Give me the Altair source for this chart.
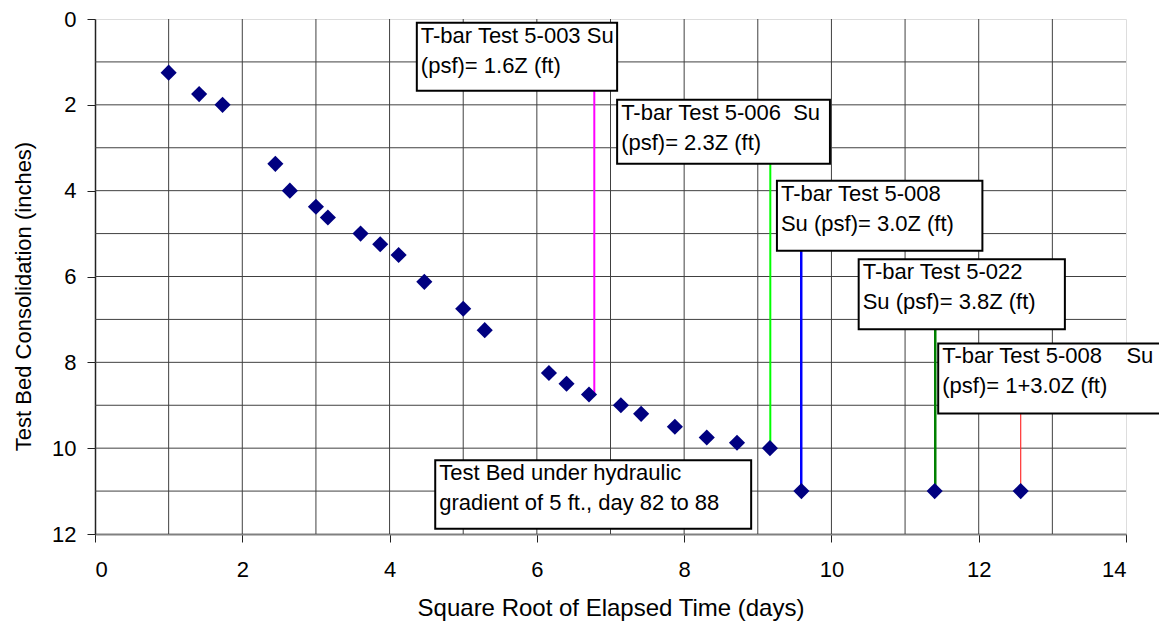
import altair as alt
import pandas as pd

# ---- data ----
sqrt_days = [1.0, 1.414, 1.732, 2.449, 2.646, 3.0, 3.162, 3.606, 3.873, 4.123,
             4.472, 5.0, 5.292, 6.164, 6.403, 6.708, 7.141, 7.416, 7.874, 8.307,
             8.718, 9.165, 9.592, 11.402, 12.570]
consolidation = [1.25, 1.75, 2.0, 3.375, 4.0, 4.375, 4.625, 5.0, 5.25, 5.5,
                 6.125, 6.75, 7.25, 8.25, 8.5, 8.75, 9.0, 9.2, 9.5, 9.75,
                 9.875, 10.0, 11.0, 11.0, 11.0]

grid_x = list(range(1, 14))
grid_y = list(range(1, 12))

# vertical marker lines (T-bar tests)
line_x = [6.78, 9.17, 9.59, 11.41, 12.57]
line_top = [1.67, 3.37, 5.40, 7.23, 9.19]
line_bottom = [8.72, 10.0, 11.0, 11.0, 11.0]
line_color = ["#ff00ff", "#00ff00", "#0000ff", "#008000", "#ff3030"]
line_width = [2.0, 2.0, 2.5, 2.5, 1.2]

# annotation boxes
box_x1 = [4.37, 7.09, 9.26, 10.37, 11.45, 4.62]
box_x2 = [7.09, 9.98, 12.05, 13.17, 14.6, 8.91]
box_y1 = [0.09, 1.88, 3.77, 5.60, 7.56, 10.28]
box_y2 = [1.67, 3.37, 5.40, 7.23, 9.19, 11.88]
box_text = [
    "T-bar Test 5-003 Su\n(psf)= 1.6Z (ft)",
    "T-bar Test 5-006\u00a0\u00a0Su\n(psf)= 2.3Z (ft)",
    "T-bar Test 5-008\nSu (psf)= 3.0Z (ft)",
    "T-bar Test 5-022\nSu (psf)= 3.8Z (ft)",
    "T-bar Test 5-008\u00a0\u00a0\u00a0\u00a0Su\n(psf)= 1+3.0Z (ft)",
    "Test Bed under hydraulic\ngradient of 5 ft., day 82 to 88",
]

x_ticks = [0, 2, 4, 6, 8, 10, 12, 14]
y_ticks = [0, 2, 4, 6, 8, 10, 12]

FONT = "Liberation Sans"
W, H = 1031, 515

pts = pd.DataFrame({"x": sqrt_days, "y": consolidation})
gx = pd.DataFrame({"x": grid_x})
gy = pd.DataFrame({"y": grid_y})
lines = pd.DataFrame({"x": line_x, "y1": line_top, "y2": line_bottom,
                      "c": line_color, "w": line_width})
boxes = pd.DataFrame({"x1": box_x1, "x2": box_x2, "y1": box_y1, "y2": box_y2,
                      "t": box_text})

xscale = alt.Scale(domain=[0, 14], nice=False, zero=False)
yscale = alt.Scale(domain=[0, 12], reverse=True, nice=False, zero=False)

x_axis = alt.Axis(values=x_ticks, grid=False, format="d",
                  title="Square Root of Elapsed Time (days)",
                  labelFontSize=22, titleFontSize=24, labelFont=FONT, titleFont=FONT,
                  labelColor="black", titleColor="black", titleFontWeight="normal",
                  tickSize=8, tickColor="#222", labelPadding=17,
                  domainColor="#808080", domainWidth=2,
                  titleX=W / 2, titleY=74, titleBaseline="middle", titleAlign="center")
y_axis = alt.Axis(values=y_ticks, grid=False, format="d",
                  title="Test Bed Consolidation (inches)",
                  labelFontSize=22, titleFontSize=22, labelFont=FONT, titleFont=FONT,
                  labelColor="black", titleColor="black", titleFontWeight="normal",
                  tickSize=8, tickColor="#222", labelPadding=11,
                  domainColor="#222", domainWidth=1.5,
                  titleX=-72, titleY=277, titleAngle=270,
                  titleBaseline="middle", titleAlign="center")

vgrid = alt.Chart(gx).mark_rule(color="#404040", strokeWidth=1).encode(
    x=alt.X("x:Q", scale=xscale, axis=x_axis))
hgrid = alt.Chart(gy).mark_rule(color="#404040", strokeWidth=1).encode(
    y=alt.Y("y:Q", scale=yscale, axis=y_axis))

vlines = alt.Chart(lines).mark_rule().encode(
    x="x:Q", y="y1:Q", y2="y2:Q",
    color=alt.Color("c:N", scale=None),
    strokeWidth=alt.StrokeWidth("w:Q", scale=None))

rects = alt.Chart(boxes).mark_rect(fill="white", stroke="black", strokeWidth=2).encode(
    x="x1:Q", x2="x2:Q", y="y1:Q", y2="y2:Q")

texts = alt.Chart(boxes).mark_text(
    align="left", baseline="top", dx=4, dy=3, fontSize=22, font=FONT,
    lineBreak="\n", lineHeight=30, color="black").encode(
    x="x1:Q", y="y1:Q", text="t:N")

points = alt.Chart(pts).mark_point(shape="diamond", filled=True, color="#000080",
                                   size=260, opacity=1).encode(x="x:Q", y="y:Q")

chart = alt.layer(vgrid, hgrid, vlines, rects, texts, points).properties(
    width=W, height=H,
    autosize=alt.AutoSizeParams(type="none"),
    padding={"left": 87, "top": 11, "right": 33, "bottom": 88},
).configure_view(stroke="#808080", strokeWidth=2).configure(background="white")

chart.save("out.html", embed_options={"renderer": "svg", "actions": False})
